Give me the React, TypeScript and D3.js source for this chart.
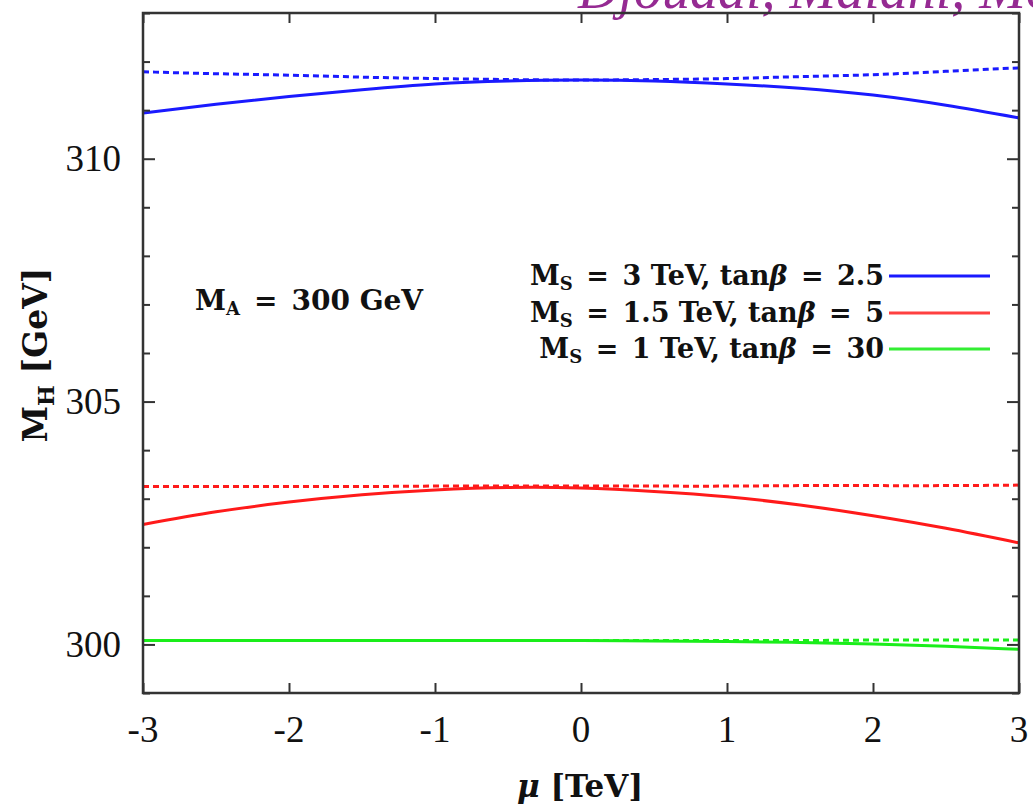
import { useRef, useEffect } from "react";
import * as d3 from "d3";

const muValues = [-3, -2.5, -2, -1.5, -1, -0.5, 0, 0.5, 1, 1.5, 2, 2.5, 3];

// M_H [GeV], solid = full, dashed = approx
const blueSolid = [310.94, 311.12, 311.28, 311.42, 311.54, 311.6, 311.62, 311.6, 311.54, 311.45, 311.31, 311.1, 310.84];
const blueDashed = [311.79, 311.75, 311.72, 311.68, 311.65, 311.63, 311.62, 311.63, 311.65, 311.69, 311.73, 311.8, 311.87];
const redSolid = [302.47, 302.73, 302.93, 303.08, 303.18, 303.23, 303.22, 303.15, 303.04, 302.87, 302.65, 302.39, 302.09];
const redDashed = [303.25, 303.25, 303.25, 303.25, 303.26, 303.26, 303.26, 303.26, 303.26, 303.27, 303.27, 303.27, 303.28];
const greenSolid = [300.08, 300.08, 300.08, 300.08, 300.08, 300.08, 300.08, 300.07, 300.06, 300.04, 300.01, 299.96, 299.9];
const greenDashed = [300.08, 300.08, 300.08, 300.08, 300.08, 300.08, 300.08, 300.08, 300.08, 300.08, 300.09, 300.09, 300.09];

const xTickValues = [-3, -2, -1, 0, 1, 2, 3];
const yMajorTicks = [300, 305, 310];
const yMinorTicks = [299, 301, 302, 303, 304, 306, 307, 308, 309, 311, 312, 313];

const series = [
  { values: blueSolid, color: "#1a1aff", dashed: false },
  { values: blueDashed, color: "#1a1aff", dashed: true },
  { values: redSolid, color: "#ff1a1a", dashed: false },
  { values: redDashed, color: "#ff1a1a", dashed: true },
  { values: greenSolid, color: "#1aee1a", dashed: false },
  { values: greenDashed, color: "#1aee1a", dashed: true },
];

const legendRows = [
  { ms: "3", tb: "2.5", color: "#1a1aff" },
  { ms: "1.5", tb: "5", color: "#ff4040" },
  { ms: "1", tb: "30", color: "#33ee33" },
];

const W = 1033;
const H = 805;
const left = 143, right = 1019, top = 13, bottom = 693;
const sp = "\u2002"; // wider math-style spacing round "="

export default function App() {
  const svgRef = useRef<SVGSVGElement>(null);

  useEffect(() => {
    const svg = d3.select(svgRef.current);
    svg.selectAll("*").remove();

    const x = d3.scaleLinear().domain([-3, 3]).range([left, right]);
    const y = d3.scaleLinear().domain([299, 313]).range([bottom, top]);

    const serif = "'Liberation Serif', 'DejaVu Serif', serif";
    const bold = "'DejaVu Serif', serif";
    const frameColor = "#333";

    // title, cut off at the top like the original
    svg
      .append("text")
      .attr("x", 578)
      .attr("y", 8)
      .attr("font-family", serif)
      .attr("font-style", "italic")
      .attr("font-size", 56)
      .attr("fill", "#952a92")
      .text("Djouadi, Maiani, Moreau, Polosa, Quevillon, Riquer");

    const plot = svg.append("g");

    // curves
    const lineGen = d3
      .line<number>()
      .x((_, i) => x(muValues[i]))
      .y((d) => y(d))
      .curve(d3.curveNatural);

    series.forEach((s) => {
      plot
        .append("path")
        .attr("d", lineGen(s.values))
        .attr("fill", "none")
        .attr("stroke", s.color)
        .attr("stroke-width", 3)
        .attr("stroke-dasharray", s.dashed ? "6,4" : null);
    });

    // ticks (bottom + mirrored top, left + mirrored right)
    const xAxisB = d3.axisBottom(x).tickValues(xTickValues).tickSize(-10).tickFormat(() => "");
    const xAxisT = d3.axisTop(x).tickValues(xTickValues).tickSize(-10).tickFormat(() => "");
    const yAxisL = d3.axisLeft(y).tickValues(yMajorTicks).tickSize(-12).tickFormat(() => "");
    const yAxisR = d3.axisRight(y).tickValues(yMajorTicks).tickSize(-12).tickFormat(() => "");
    const yMinL = d3.axisLeft(y).tickValues(yMinorTicks).tickSize(-7).tickFormat(() => "");
    const yMinR = d3.axisRight(y).tickValues(yMinorTicks).tickSize(-7).tickFormat(() => "");

    const addAxis = (ax: any, tx: number, ty: number) => {
      const g = svg.append("g").attr("transform", `translate(${tx},${ty})`).call(ax);
      g.select(".domain").remove();
      g.selectAll("line").attr("stroke", frameColor).attr("stroke-width", 2);
    };
    addAxis(xAxisB, 0, bottom);
    addAxis(xAxisT, 0, top);
    addAxis(yAxisL, left, 0);
    addAxis(yAxisR, right, 0);
    addAxis(yMinL, left, 0);
    addAxis(yMinR, right, 0);

    // frame
    svg
      .append("rect")
      .attr("x", left)
      .attr("y", top)
      .attr("width", right - left)
      .attr("height", bottom - top)
      .attr("fill", "none")
      .attr("stroke", frameColor)
      .attr("stroke-width", 2.5);

    // tick labels
    svg
      .selectAll(".xlab")
      .data(xTickValues)
      .join("text")
      .attr("x", (d) => x(d))
      .attr("y", 742)
      .attr("text-anchor", "middle")
      .attr("font-family", serif)
      .attr("font-size", 37)
      .attr("fill", "#111")
      .text((d) => String(d));

    svg
      .selectAll(".ylab")
      .data(yMajorTicks)
      .join("text")
      .attr("x", 121)
      .attr("y", (d) => y(d))
      .attr("dy", "0.34em")
      .attr("text-anchor", "end")
      .attr("font-family", serif)
      .attr("font-size", 37)
      .attr("fill", "#111")
      .text((d) => String(d));

    // axis titles
    const xt = svg
      .append("text")
      .attr("x", 580)
      .attr("y", 797)
      .attr("text-anchor", "middle")
      .attr("font-family", bold)
      .attr("font-weight", "bold")
      .attr("font-size", 31)
      .attr("fill", "#111");
    xt.append("tspan").attr("font-style", "italic").text("μ");
    xt.append("tspan").text(" [TeV]");

    const yt = svg
      .append("text")
      .attr("transform", "translate(47,355) rotate(-90)")
      .attr("text-anchor", "middle")
      .attr("font-family", bold)
      .attr("font-weight", "bold")
      .attr("font-size", 33)
      .attr("fill", "#111");
    yt.append("tspan").text("M");
    yt.append("tspan").attr("font-size", 22).attr("dy", 7).text("H");
    yt.append("tspan").attr("dy", -7).text(" [GeV]");

    // M_A label
    const ma = svg
      .append("text")
      .attr("x", 195)
      .attr("y", 310)
      .attr("font-family", bold)
      .attr("font-weight", "bold")
      .attr("font-size", 28)
      .attr("fill", "#111");
    ma.append("tspan").text("M");
    ma.append("tspan").attr("font-size", 18).attr("dy", 5).text("A");
    ma.append("tspan").attr("dy", -5).text(`${sp}=${sp}300 GeV`);

    // legend
    const rowY = [276, 313, 349];
    legendRows.forEach((r, i) => {
      const t = svg
        .append("text")
        .attr("x", 884)
        .attr("y", rowY[i] + 9)
        .attr("text-anchor", "end")
        .attr("font-family", bold)
        .attr("font-weight", "bold")
        .attr("font-size", 27)
        .attr("fill", "#111");
      t.append("tspan").text("M");
      t.append("tspan").attr("font-size", 18).attr("dy", 5).text("S");
      t.append("tspan").attr("dy", -5).text(`${sp}=${sp}${r.ms} TeV, tan`);
      t.append("tspan").attr("font-style", "italic").text("β");
      t.append("tspan").text(`${sp}=${sp}${r.tb}`);
      svg
        .append("line")
        .attr("x1", 889)
        .attr("x2", 990)
        .attr("y1", rowY[i])
        .attr("y2", rowY[i])
        .attr("stroke", r.color)
        .attr("stroke-width", 3);
    });
  }, []);

  return (
    <svg
      ref={svgRef}
      width={W}
      height={H}
      style={{ position: "absolute", left: 0, top: 0, background: "#fff" }}
    />
  );
}
